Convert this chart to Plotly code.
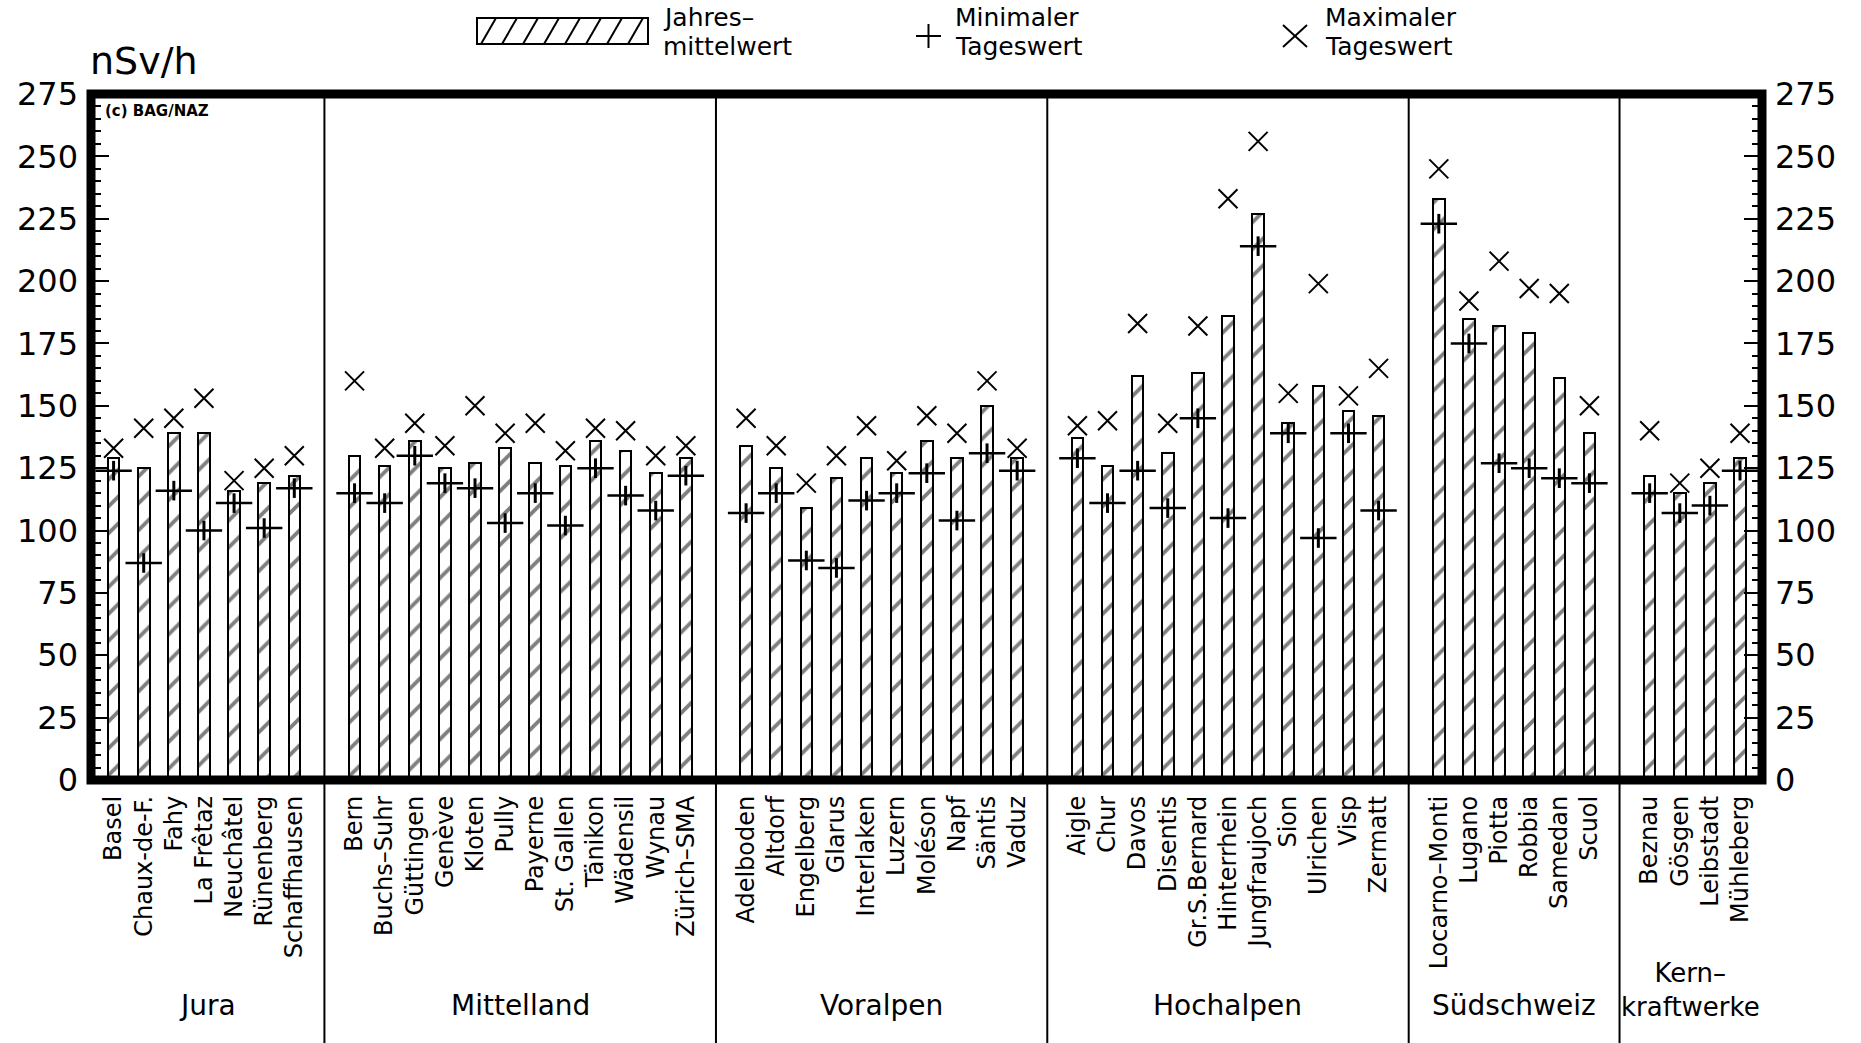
import plotly.graph_objects as go

# Stations grouped by region, with annual mean, minimum and maximum daily dose rate (nSv/h)
groups = ["Jura", "Mittelland", "Voralpen", "Hochalpen", "Südschweiz", "Kern–\nkraftwerke"]

jura_stations = ["Basel", "Chaux-de-F.", "Fahy", "La Frêtaz", "Neuchâtel", "Rünenberg", "Schaffhausen"]
jura_mean = [129, 125, 139, 139, 116, 119, 122]
jura_min = [124, 87, 116, 100, 111, 101, 117]
jura_max = [133, 141, 145, 153, 120, 125, 130]

mittelland_stations = ["Bern", "Buchs–Suhr", "Güttingen", "Genève", "Kloten", "Pully", "Payerne",
                       "St. Gallen", "Tänikon", "Wädensil", "Wynau", "Zürich–SMA"]
mittelland_mean = [130, 126, 136, 125, 127, 133, 127, 126, 136, 132, 123, 129]
mittelland_min = [115, 111, 130, 119, 117, 103, 115, 102, 125, 114, 108, 122]
mittelland_max = [160, 133, 143, 134, 150, 139, 143, 132, 141, 140, 130, 134]

voralpen_stations = ["Adelboden", "Altdorf", "Engelberg", "Glarus", "Interlaken", "Luzern",
                     "Moléson", "Napf", "Säntis", "Vaduz"]
voralpen_mean = [134, 125, 109, 121, 129, 123, 136, 129, 150, 129]
voralpen_min = [107, 115, 88, 85, 112, 115, 123, 104, 131, 124]
voralpen_max = [145, 134, 119, 130, 142, 128, 146, 139, 160, 133]

hochalpen_stations = ["Aigle", "Chur", "Davos", "Disentis", "Gr.S.Bernard", "Hinterrhein",
                      "Jungfraujoch", "Sion", "Ulrichen", "Visp", "Zermatt"]
hochalpen_mean = [137, 126, 162, 131, 163, 186, 227, 143, 158, 148, 146]
hochalpen_min = [129, 111, 124, 109, 145, 105, 214, 139, 97, 139, 108]
hochalpen_max = [142, 144, 183, 143, 182, 233, 256, 155, 199, 154, 165]

sued_stations = ["Locarno–Monti", "Lugano", "Piotta", "Robbia", "Samedan", "Scuol"]
sued_mean = [233, 185, 182, 179, 161, 139]
sued_min = [223, 175, 127, 125, 121, 119]
sued_max = [245, 192, 208, 197, 195, 150]

kkw_stations = ["Beznau", "Gösgen", "Leibstadt", "Mühleberg"]
kkw_mean = [122, 115, 119, 129]
kkw_min = [115, 107, 110, 124]
kkw_max = [140, 119, 125, 139]

y_ticks = [0, 25, 50, 75, 100, 125, 150, 175, 200, 225, 250, 275]

group_data = [
    (jura_stations, jura_mean, jura_min, jura_max),
    (mittelland_stations, mittelland_mean, mittelland_min, mittelland_max),
    (voralpen_stations, voralpen_mean, voralpen_min, voralpen_max),
    (hochalpen_stations, hochalpen_mean, hochalpen_min, hochalpen_max),
    (sued_stations, sued_mean, sued_min, sued_max),
    (kkw_stations, kkw_mean, kkw_min, kkw_max),
]

# Lay stations out on a numeric axis, leaving one empty slot between regions
xs, names, means, mins, maxs = [], [], [], [], []
separators = []
slot = 0
for gi, (st, mn, lo, hi) in enumerate(group_data):
    for s, m, a, b in zip(st, mn, lo, hi):
        xs.append(slot); names.append(s); means.append(m); mins.append(a); maxs.append(b)
        slot += 1
    if gi < len(group_data) - 1:
        separators.append(slot)
        slot += 1

X_MIN, X_MAX = -0.75, xs[-1] + 0.73

# Page geometry (pixels)
W, H = 1861, 1043
L, R, T, B = 91, 99, 94, 263
PW, PH = W - L - R, H - T - B


def px(xp):
    return (xp - L) / PW


def py(yp):
    return (H - B - yp) / PH


FONT = "DejaVu Sans"
fig = go.Figure()

fig.add_trace(go.Bar(
    x=xs, y=means, width=0.385,
    marker=dict(color="white", line=dict(color="black", width=2),
                pattern=dict(shape="/", fgcolor="black", bgcolor="white", size=19, solidity=0.2)),
    hoverinfo="skip", showlegend=False,
))
# Minimum daily value: wide horizontal stroke with a short vertical stroke
fig.add_trace(go.Scatter(
    x=xs, y=mins, mode="markers",
    marker=dict(symbol="line-ew", size=26, line=dict(color="black", width=2.5)),
    hoverinfo="skip", showlegend=False,
))
fig.add_trace(go.Scatter(
    x=xs, y=mins, mode="markers",
    marker=dict(symbol="line-ns", size=14, line=dict(color="black", width=3)),
    hoverinfo="skip", showlegend=False,
))
# Maximum daily value
fig.add_trace(go.Scatter(
    x=xs, y=maxs, mode="markers",
    marker=dict(symbol="x-thin", size=19, line=dict(color="black", width=2)),
    hoverinfo="skip", showlegend=False,
))
# Invisible trace so the right-hand axis is drawn
fig.add_trace(go.Scatter(x=[xs[0]], y=[0], yaxis="y2", mode="markers",
                         marker=dict(opacity=0), hoverinfo="skip", showlegend=False))

yaxis_common = dict(
    range=[0, 275], tickvals=y_ticks, ticks="inside", ticklen=18, tickwidth=2,
    tickcolor="black", showgrid=False, zeroline=False, showline=False,
    tickfont=dict(family=FONT, size=32, color="black"), ticklabelstandoff=12,
    minor=dict(dtick=5, ticks="inside", ticklen=10, tickwidth=2, tickcolor="black", showgrid=False),
)

fig.update_layout(
    width=W, height=H,
    margin=dict(l=L, r=R, t=T, b=B, pad=0),
    paper_bgcolor="white", plot_bgcolor="white",
    bargap=0, showlegend=False,
    xaxis=dict(range=[X_MIN, X_MAX], tickvals=xs, ticktext=names, tickangle=-90,
               ticks="", showgrid=False, zeroline=False, showline=False,
               tickfont=dict(family=FONT, size=24, color="black"), ticklabelstandoff=10),
    yaxis=dict(**yaxis_common, side="left"),
    yaxis2=dict(**yaxis_common, side="right", overlaying="y"),
)

shapes = []
# Region separators running from the top frame to the bottom of the page
for s in separators:
    shapes.append(dict(type="line", xref="x", yref="paper", x0=s, x1=s, y0=1, y1=py(H),
                       line=dict(color="black", width=2)))
# Heavy frame around the plotting area
shapes.append(dict(type="rect", xref="paper", yref="paper", x0=0, x1=1, y0=0, y1=1,
                   line=dict(color="black", width=9), layer="above"))

# Legend: hatched box, plus sign and cross
lx0, lx1, ly0, ly1 = 477, 648, 18, 44
shapes.append(dict(type="rect", xref="paper", yref="paper", x0=px(lx0), x1=px(lx1),
                   y0=py(ly1), y1=py(ly0), line=dict(color="black", width=2)))
for k in range(8):
    xa = lx0 + 4 + k * 21
    xb = xa + 15
    if xb > lx1:
        continue
    shapes.append(dict(type="line", xref="paper", yref="paper", x0=px(xa), x1=px(xb),
                       y0=py(ly1), y1=py(ly0), line=dict(color="black", width=2)))
shapes.append(dict(type="line", xref="paper", yref="paper", x0=px(916), x1=px(941),
                   y0=py(36), y1=py(36), line=dict(color="black", width=2)))
shapes.append(dict(type="line", xref="paper", yref="paper", x0=px(928.5), x1=px(928.5),
                   y0=py(24), y1=py(48), line=dict(color="black", width=2)))
shapes.append(dict(type="line", xref="paper", yref="paper", x0=px(1283), x1=px(1307),
                   y0=py(25), y1=py(47), line=dict(color="black", width=2)))
shapes.append(dict(type="line", xref="paper", yref="paper", x0=px(1283), x1=px(1307),
                   y0=py(47), y1=py(25), line=dict(color="black", width=2)))
fig.update_layout(shapes=shapes)

annotations = []


def text(s, xp, yp, size, xanchor="left", bold=False):
    annotations.append(dict(text=f"<b>{s}</b>" if bold else s, xref="paper", yref="paper",
                            x=px(xp), y=py(yp), xanchor=xanchor, yanchor="middle",
                            align="left", showarrow=False,
                            font=dict(family=FONT, size=size, color="black")))


legend_texts = [("Jahres–", "mittelwert", 661), ("Minimaler", "Tageswert", 953),
                ("Maximaler", "Tageswert", 1323)]
for top, bottom, xl in legend_texts:
    text(top, xl, 17.5, 25)
    text(bottom, xl, 47, 25)
text("nSv/h", 88, 61, 38)
text("(c) BAG/NAZ", 103, 111, 15, bold=True)

# Region names centred between separators
bounds = [X_MIN] + separators + [X_MAX]
for gi, g in enumerate(groups):
    xc = (bounds[gi] + bounds[gi + 1]) / 2
    lines = g.split("\n")
    size = 28 if len(lines) == 1 else 26
    annotations.append(dict(text="<br>".join(lines), xref="x", yref="paper", x=xc, y=py(1024),
                            xanchor="center", yanchor="bottom", align="center", showarrow=False,
                            font=dict(family=FONT, size=size, color="black")))
fig.update_layout(annotations=annotations)

fig.write_html("out.html")
